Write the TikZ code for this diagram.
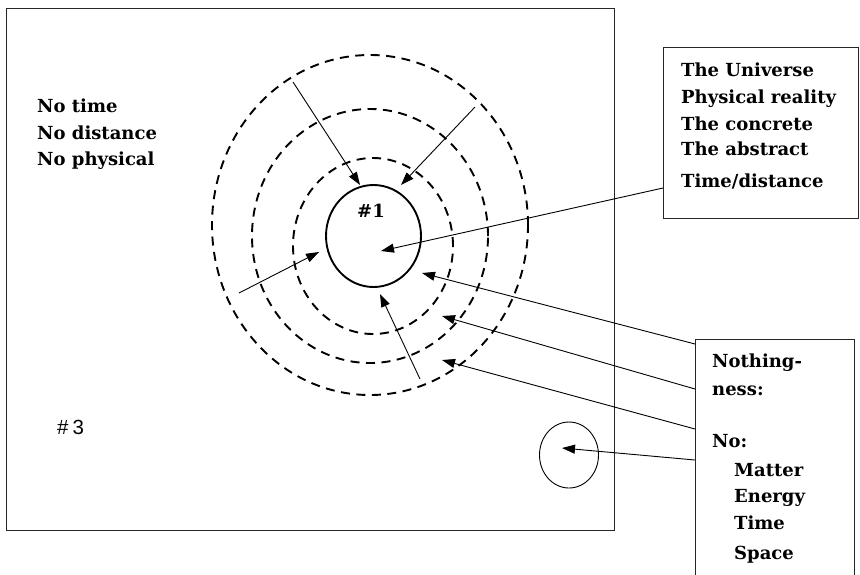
\documentclass[tikz,border=0pt]{standalone}
\usepackage{fontspec}
\setmainfont{DejaVu Serif}
\newfontfamily\hashfont{Liberation Sans}
\usetikzlibrary{arrows.meta,shapes.geometric}
\begin{document}
\begin{tikzpicture}[x=1pt,y=-1pt,
  frame/.style={draw=black!85,line width=1pt,inner sep=0pt},
  ring/.style={draw,ellipse,inner sep=0pt,line width=1.9pt,dash pattern=on 9pt off 6.5pt},
  core/.style={draw,ellipse,inner sep=0pt,line width=1.9pt},
  arr/.style={-{Triangle[length=13pt,width=9pt]},line width=0.9pt},
  lbl/.style={font=\fontsize{18}{22}\selectfont\bfseries,inner sep=0pt,anchor=base west,align=left}]
\useasboundingbox (0,0) rectangle (860,574);
\clip (0,0) rectangle (860,574);
% frames
\node[frame,minimum width=608pt,minimum height=522pt,anchor=north west] (main) at (6,8) {};
\node[frame,minimum width=195pt,minimum height=171pt,anchor=north west] (ubox) at (663,47) {};
\node[frame,minimum width=159pt,minimum height=260pt,anchor=north west] (lbox) at (695,339) {};
% rings
\node[ring,minimum width=316pt,minimum height=340pt] (r3) at (370,225) {};
\node[ring,minimum width=236pt,minimum height=254pt] (r2) at (370,236) {};
\node[ring,minimum width=160pt,minimum height=176pt] (r1) at (373,246) {};
\node[core,minimum width=95pt,minimum height=102pt] (c0) at (373.5,236) {};
\node[draw,ellipse,inner sep=0pt,line width=0.9pt,minimum width=59pt,minimum height=66pt] (small) at (569,455) {};
% texts
\node[lbl] (h1) at (357,217) {\#1};
\node[lbl,font=\hashfont\fontsize{20.5}{24}\selectfont] (h3) at (57,434) {\#\kern4pt 3};
\node[lbl] (nt) at (37,112) {No time};
\node[lbl] (nd) at (37,139) {No distance};
\node[lbl] (np) at (37,165) {No physical};
\node[lbl] (u1) at (681,76) {The Universe};
\node[lbl] (u2) at (681,103) {Physical reality};
\node[lbl] (u3) at (681,130) {The concrete};
\node[lbl] (u4) at (681,155) {The abstract};
\node[lbl] (u5) at (681,187) {Time/distance};
\node[lbl] (l1) at (712,367) {Nothing-};
\node[lbl] (l2) at (712,395) {ness:};
\node[lbl] (l3) at (712,447) {No:};
\node[lbl] (l4) at (734,476) {Matter};
\node[lbl] (l5) at (734,502) {Energy};
\node[lbl] (l6) at (734,529) {Time};
\node[lbl] (l7) at (734,559) {Space};
% arrow ends
\coordinate (a1s) at (293,82);   \coordinate (a1e) at (360,185);
\coordinate (a2s) at (475,107);  \coordinate (a2e) at (401,185);
\coordinate (a3s) at (239,293);  \coordinate (a3e) at (319,252);
\coordinate (a4s) at (420,379);  \coordinate (a4e) at (380,294);
\coordinate (a5s) at (663,188);  \coordinate (a5e) at (381,251);
\coordinate (a6s) at (695,344);  \coordinate (a6e) at (422,273);
\coordinate (a7s) at (695,389);  \coordinate (a7e) at (442,316);
\coordinate (a8s) at (695,429);  \coordinate (a8e) at (442,360);
\coordinate (a9s) at (695,460);  \coordinate (a9e) at (562,448);
\draw[arr] (a1s) -- (a1e);
\draw[arr] (a2s) -- (a2e);
\draw[arr] (a3s) -- (a3e);
\draw[arr] (a4s) -- (a4e);
\draw[arr] (a5s) -- (a5e);
\draw[arr] (a6s) -- (a6e);
\draw[arr] (a7s) -- (a7e);
\draw[arr] (a8s) -- (a8e);
\draw[arr] (a9s) -- (a9e);
\end{tikzpicture}
\end{document}
